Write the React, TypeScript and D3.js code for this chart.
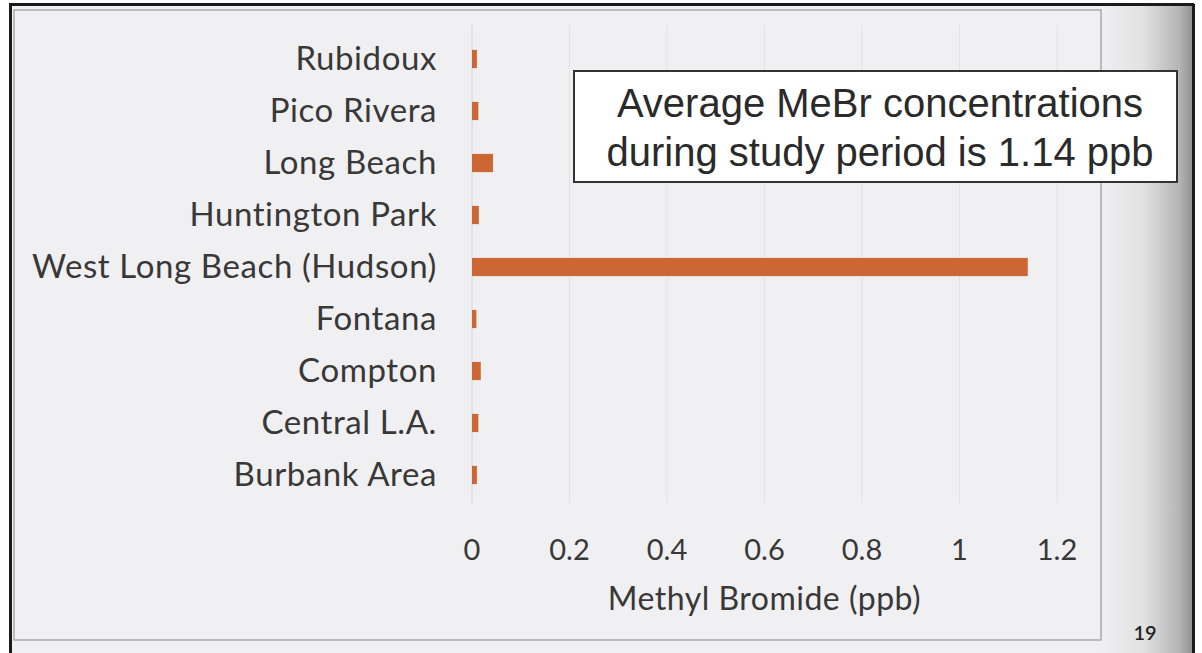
import React from "react";
import * as d3 from "d3";

const categories = [
  "Rubidoux",
  "Pico Rivera",
  "Long Beach",
  "Huntington Park",
  "West Long Beach (Hudson)",
  "Fontana",
  "Compton",
  "Central L.A.",
  "Burbank Area",
];
const values = [0.01, 0.013, 0.043, 0.014, 1.14, 0.009, 0.018, 0.013, 0.01];
const xTicks = [0, 0.2, 0.4, 0.6, 0.8, 1, 1.2];
const xTickLabels = ["0", "0.2", "0.4", "0.6", "0.8", "1", "1.2"];
const axisTitle = "Methyl Bromide (ppb)";
const noteLines = ["Average MeBr concentrations", "during study period is 1.14 ppb"];
const pageNumber = "19";

const W = 1202;
const H = 653;
const plot = { left: 472, right: 1057, top: 33, bottom: 501 };
const labelFont = "Lato, 'Open Sans', sans-serif";

export default function App() {
  const x = d3.scaleLinear().domain([0, 1.2]).range([plot.left, plot.right]);
  const y = d3
    .scaleBand<string>()
    .domain(categories)
    .range([plot.top, plot.bottom])
    .paddingInner(0.65)
    .paddingOuter(0.325);

  return (
    <svg
      width={W}
      height={H}
      style={{ position: "absolute", left: 0, top: 0, display: "block" }}
    >
      <defs>
        <linearGradient id="edge" x1="0" x2="1" y1="0" y2="0">
          <stop offset="0" stopColor="#efeef0" />
          <stop offset="0.45" stopColor="#e2e2e3" />
          <stop offset="0.85" stopColor="#b5b5b6" />
          <stop offset="1" stopColor="#8e8e8f" />
        </linearGradient>
      </defs>
      <rect x={0} y={0} width={W} height={H} fill="#ffffff" />
      <rect x={10} y={4} width={1183} height={H} fill="#f0eff2" />
      <rect x={1102} y={4} width={91} height={H} fill="url(#edge)" />
      {/* outer black border */}
      <line x1={10.5} y1={4} x2={10.5} y2={H} stroke="#1a1a1a" strokeWidth={3} />
      <line x1={9} y1={4.5} x2={1194} y2={4.5} stroke="#1a1a1a" strokeWidth={3} />
      <line x1={1193.5} y1={4} x2={1193.5} y2={H} stroke="#1a1a1a" strokeWidth={3} />
      {/* chart frame */}
      <rect
        x={14}
        y={10}
        width={1087}
        height={630}
        fill="#f0eff2"
        stroke="#a9a9ab"
        strokeWidth={1.5}
      />
      {/* gridlines */}
      {xTicks.map((t) => (
        <line
          key={"g" + t}
          x1={x(t)}
          x2={x(t)}
          y1={plot.top - 8}
          y2={plot.bottom + 2}
          stroke={t === 0 ? "#d4d4d6" : "#e2e2e5"}
          strokeWidth={1}
        />
      ))}
      {/* bars */}
      {categories.map((c, i) => (
        <rect
          key={c}
          x={x(0)}
          y={y(c)}
          width={x(values[i]) - x(0)}
          height={y.bandwidth()}
          fill="#cc6633"
        />
      ))}
      {/* category labels */}
      {categories.map((c) => (
        <text
          key={"l" + c}
          x={437}
          y={(y(c) as number) + y.bandwidth() / 2 - 2}
          textAnchor="end"
          dominantBaseline="central"
          fontFamily={labelFont}
          fontSize={33}
          letterSpacing={0.6}
          fill="#383838"
        >
          {c}
        </text>
      ))}
      {/* x tick labels */}
      {xTicks.map((t, i) => (
        <text
          key={"t" + t}
          x={x(t)}
          y={548}
          textAnchor="middle"
          dominantBaseline="central"
          fontFamily={labelFont}
          fontSize={29}
          fill="#383838"
        >
          {xTickLabels[i]}
        </text>
      ))}
      <text
        x={(x(0) + x(1.2)) / 2}
        y={597}
        textAnchor="middle"
        dominantBaseline="central"
        fontFamily={labelFont}
        fontSize={32}
        letterSpacing={0.5}
        fill="#383838"
      >
        {axisTitle}
      </text>
      {/* annotation box */}
      <rect
        x={574}
        y={71}
        width={603}
        height={111}
        fill="#ffffff"
        stroke="#333333"
        strokeWidth={2}
      />
      {noteLines.map((l, i) => (
        <text
          key={"n" + i}
          x={880}
          y={103 + i * 49}
          textAnchor="middle"
          dominantBaseline="central"
          fontFamily="'Liberation Sans', Arial, sans-serif"
          fontSize={40}
          fill="#2a2a2a"
        >
          {l}
        </text>
      ))}
      <text
        x={1145}
        y={632}
        textAnchor="middle"
        dominantBaseline="central"
        fontFamily={labelFont}
        fontSize={20}
        fontWeight={600}
        fill="#222"
      >
        {pageNumber}
      </text>
    </svg>
  );
}
